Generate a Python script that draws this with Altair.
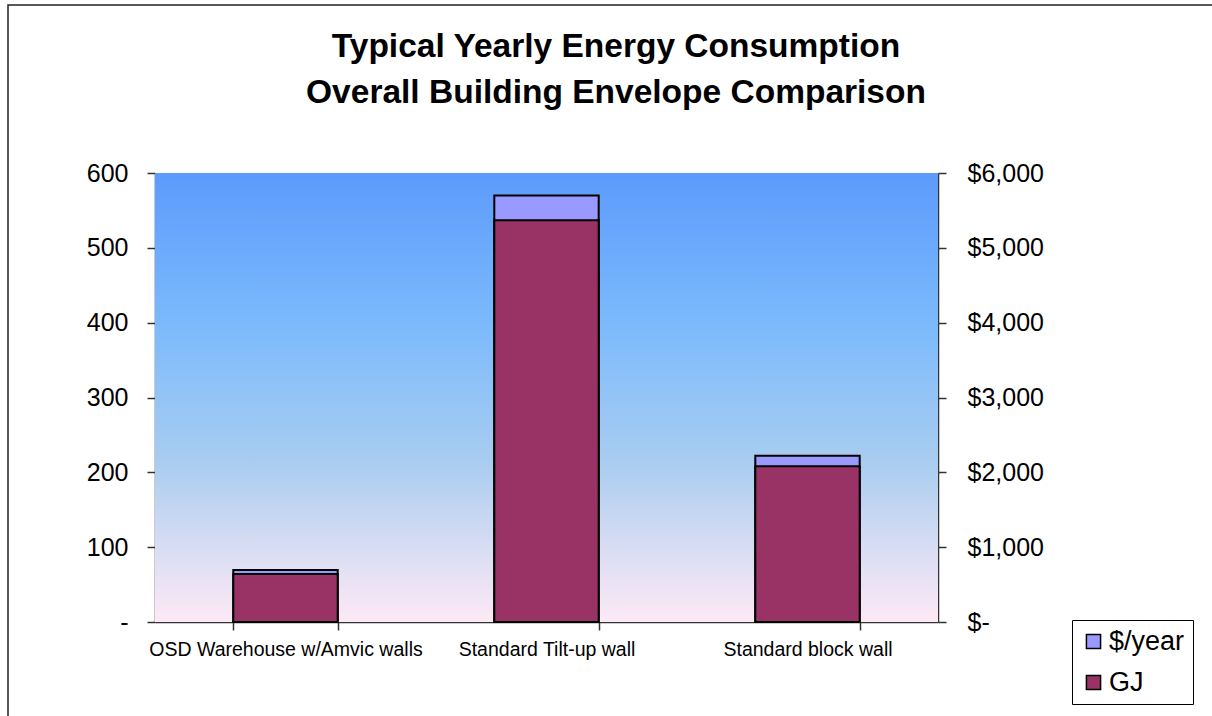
import altair as alt
import pandas as pd

title_lines = ["Typical Yearly Energy Consumption", "Overall Building Envelope Comparison"]
categories = ["OSD Warehouse w/Amvic walls", "Standard Tilt-up wall", "Standard block wall"]
gj_values = [64, 537, 208]
dollar_values = [695, 5700, 2223]
series_names = ["$/year", "GJ"]
series_colors = ["#9999FF", "#993366"]

rows = []
for c, d in zip(categories, dollar_values):
    rows.append({"category": c, "series": "$/year", "value": d})
for c, g in zip(categories, gj_values):
    rows.append({"category": c, "series": "GJ", "value": g})
df = pd.DataFrame(rows)

FONT = "Liberation Sans"
W, H = 783, 449

xenc = alt.X(
    "category:N",
    sort=categories,
    scale=alt.Scale(paddingInner=0.6, paddingOuter=0.3),
    axis=alt.Axis(
        title=None, labelAngle=0, labelFontSize=19.5, labelFont=FONT, labelColor="black",
        labelLimit=0, tickBand="extent", tickSize=8, tickColor="#333333",
        domainColor="#333333", domainWidth=1.5, tickWidth=1.5, labelPadding=10,
    ),
)

color = alt.Color(
    "series:N",
    scale=alt.Scale(domain=series_names, range=series_colors),
    legend=alt.Legend(
        title=None, orient="none", legendX=917, legendY=447,
        symbolType="square", symbolSize=200, symbolStrokeColor="black",
        symbolStrokeWidth=1.5, labelFontSize=27, labelFont=FONT, labelColor="black",
        strokeColor="black", padding=8, rowPadding=13, labelOffset=2,
        fillColor="white",
    ),
)

bg = alt.Chart(pd.DataFrame({"a": [0]})).mark_rect(
    fill=alt.Gradient(
        gradient="linear", x1=0, x2=0, y1=0, y2=1,
        stops=[
            alt.GradientStop(offset=0, color="#5C9BFC"),
            alt.GradientStop(offset=0.35, color="#7DBBFC"),
            alt.GradientStop(offset=0.65, color="#AACDF0"),
            alt.GradientStop(offset=0.85, color="#DCDEF3"),
            alt.GradientStop(offset=1, color="#FDE9F6"),
        ],
    )
).encode(x=alt.value(0), x2=alt.value(W), y=alt.value(0), y2=alt.value(H))

frame = alt.Chart(pd.DataFrame({"a": [0]})).mark_rect(
    filled=False, stroke="#222222", strokeWidth=1.5
).encode(x=alt.value(-147), x2=alt.value(1400), y=alt.value(-168), y2=alt.value(900))

title_df = pd.DataFrame({"line": title_lines, "row": [0, 1]})
title1 = alt.Chart(title_df).transform_filter(alt.datum.row == 0).mark_text(
    font=FONT, fontSize=33.5, fontWeight="bold", color="black", align="center", baseline="middle"
).encode(text="line:N", x=alt.value(461), y=alt.value(-126))
title2 = alt.Chart(title_df).transform_filter(alt.datum.row == 1).mark_text(
    font=FONT, fontSize=33.5, fontWeight="bold", color="black", align="center", baseline="middle"
).encode(text="line:N", x=alt.value(461), y=alt.value(-80))

dollar_bars = alt.Chart(df).transform_filter(alt.datum.series == "$/year").mark_bar(
    stroke="black", strokeWidth=2
).encode(
    x=xenc,
    y=alt.Y(
        "value:Q",
        scale=alt.Scale(domain=[0, 6000]),
        axis=alt.Axis(
            orient="right", title=None, values=[0, 1000, 2000, 3000, 4000, 5000, 6000],
            labelExpr="datum.value == 0 ? '$-' : '$' + format(datum.value, ',')",
            labelFontSize=25, labelFont=FONT, labelColor="black", grid=False,
            tickSize=8, tickColor="#333333", domainColor="#333333", domainWidth=1.5,
            tickWidth=1.5, labelPadding=21,
        ),
    ),
    color=color,
)

gj_bars = alt.Chart(df).transform_filter(alt.datum.series == "GJ").mark_bar(
    stroke="black", strokeWidth=2
).encode(
    x=xenc,
    y=alt.Y(
        "value:Q",
        scale=alt.Scale(domain=[0, 600]),
        axis=alt.Axis(
            orient="left", title=None, values=[0, 100, 200, 300, 400, 500, 600],
            labelExpr="datum.value == 0 ? '-' : format(datum.value, 'd')",
            labelFontSize=25, labelFont=FONT, labelColor="black", grid=False,
            tickSize=8, tickColor="#333333", domainColor="#333333", domainWidth=1.5,
            tickWidth=1.5, labelPadding=19,
        ),
    ),
    color=color,
)

bars = alt.layer(dollar_bars, gj_bars).resolve_scale(y="independent")

chart = alt.layer(frame, bg, title1, title2, bars).properties(
    width=W, height=H,
    autosize=alt.AutoSizeParams(type="none"),
    padding={"left": 155, "top": 173, "right": 274, "bottom": 94},
).configure_view(stroke=None).configure(background="white")

chart.save("out.html", embed_options={"renderer": "svg", "actions": False})
